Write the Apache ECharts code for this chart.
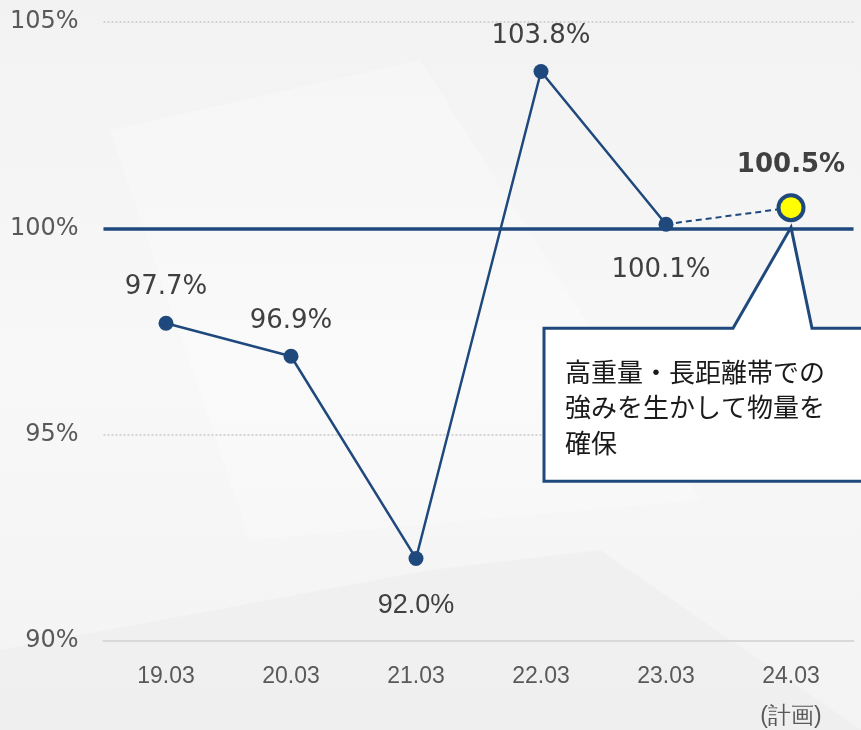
<!DOCTYPE html>
<html>
<head>
<meta charset="utf-8">
<script src="https://cdn.jsdelivr.net/npm/echarts@6/dist/echarts.min.js"></script>
<style>
  html, body { margin: 0; padding: 0; background: #f5f5f5; }
  #chart { width: 861px; height: 730px; }
</style>
</head>
<body>
<div id="chart"></div>
<script>
// Fiscal years on the x axis (the last one is the plan)
const categories = ['19.03', '20.03', '21.03', '22.03', '23.03', '24.03\n(計画)'];
// Actual results, percent
const actualValues = [97.7, 96.9, 92.0, 103.8, 100.1, '-'];
// Plan segment: last actual point joined to the plan value
const planValues = ['-', '-', '-', '-', 100.1, 100.5];
// Reference level
const baseline = 100;
const yTicks = { min: 90, max: 105, interval: 5 };
const calloutText = '高重量・長距離帯での\n強みを生かして物量を\n確保';

const NAVY = '#1f497d';
const LABEL = '#404040';
const AXIS_TEXT = '#595959';

const chart = echarts.init(document.getElementById('chart'), null, { renderer: 'canvas' });

// per-point label placement
const labelPos = ['top', 'top', 'bottom', 'top', 'bottom'];

const actualData = actualValues.map((v, i) => {
  if (v === '-') return v;
  const item = {
    value: v,
    label: {
      show: true,
      position: labelPos[i],
      distance: labelPos[i] === 'top' ? 15 : 26,
      formatter: p => p.value.toFixed(1) + '%'
    }
  };
  if (i === 2) {
    item.label.fontFamily = '"Liberation Sans Narrow", "Liberation Sans", sans-serif';
    item.label.fontSize = 27;
  }
  if (i === 4) item.label.offset = [-5, 0];
  return item;
});

const planData = planValues.map((v, i) => {
  if (v === '-') return v;
  if (i === planValues.length - 1) {
    return {
      value: v,
      symbol: 'circle',
      symbolSize: 25,
      itemStyle: { color: '#ffff00', borderColor: NAVY, borderWidth: 4 },
      label: {
        show: true,
        position: 'top',
        distance: 15,
        fontWeight: 'bold',
        formatter: p => p.value.toFixed(1) + '%'
      }
    };
  }
  return { value: v, symbol: 'none' };
});

chart.setOption({
  backgroundColor: {
    type: 'linear', x: 0, y: 0, x2: 0, y2: 1,
    colorStops: [
      { offset: 0, color: '#f2f2f2' },
      { offset: 0.5, color: '#f8f8f8' },
      { offset: 1, color: '#f3f3f3' }
    ]
  },
  animation: false,
  grid: { left: 103.5, right: 7.5, top: 22, bottom: 89, containLabel: false, outerBoundsMode: 'none' },
  xAxis: {
    type: 'category',
    data: categories,
    boundaryGap: true,
    axisLine: { show: true, lineStyle: { color: '#d9d9d9', width: 2 } },
    axisTick: { show: false },
    axisLabel: {
      color: AXIS_TEXT,
      fontFamily: '"Liberation Sans Narrow", "Liberation Sans", sans-serif',
      fontSize: 23,
      lineHeight: 40,
      margin: 16,
      verticalAlign: 'top',
      interval: 0
    }
  },
  yAxis: {
    type: 'value',
    min: yTicks.min,
    max: yTicks.max,
    interval: yTicks.interval,
    axisLine: { show: false },
    axisTick: { show: false },
    axisLabel: {
      color: AXIS_TEXT,
      fontFamily: '"DejaVu Sans", sans-serif',
      fontSize: 24,
      margin: 25,
      formatter: '{value}%'
    },
    splitLine: {
      show: true,
      lineStyle: { color: '#c9c9c9', type: [2, 2], width: 1.5 }
    }
  },
  series: [
    {
      name: '実績',
      type: 'line',
      data: actualData,
      symbol: 'circle',
      symbolSize: 15,
      lineStyle: { color: NAVY, width: 2.5 },
      itemStyle: { color: NAVY },
      label: { color: LABEL, fontFamily: '"DejaVu Sans", sans-serif', fontSize: 26 },
      z: 3,
      markLine: {
        silent: true,
        symbol: 'none',
        label: { show: false },
        lineStyle: { color: NAVY, width: 3.5, type: 'solid' },
        data: [{ yAxis: baseline }],
        z: 1
      }
    },
    {
      name: '計画',
      type: 'line',
      data: planData,
      lineStyle: { color: NAVY, width: 2, type: [6, 4] },
      itemStyle: { color: NAVY },
      label: { color: LABEL, fontFamily: '"DejaVu Sans", sans-serif', fontSize: 26 },
      z: 4
    }
  ]
});

// Callout anchored to the plan point on the 100% line
function drawCallout() {
  const tip = chart.convertToPixel({ gridIndex: 0 }, [categories.length - 1, baseline]);
  const tx = tip[0], ty = tip[1] - 1;
  const top = ty + 101, bottom = ty + 254;
  const left = tx - 247, right = 900;
  const baseL = tx - 58, baseR = tx + 21;
  chart.setOption({
    graphic: [
      // faint background facets
      { type: 'polygon', silent: true, z: -10,
        shape: { points: [[0, 650], [430, 570], [600, 550], [861, 730], [0, 730]] },
        style: { fill: 'rgba(228,228,228,0.25)' } },
      { type: 'polygon', silent: true, z: -10,
        shape: { points: [[110, 130], [420, 60], [700, 500], [250, 540]] },
        style: { fill: 'rgba(255,255,255,0.25)' } },
      {
        type: 'polygon',
        z: 10,
        shape: {
          points: [[left, top], [baseL, top], [tx, ty], [baseR, top], [right, top],
                   [right, bottom], [left, bottom]]
        },
        style: { fill: '#ffffff', stroke: NAVY, lineWidth: 3, lineJoin: 'miter' }
      },
      {
        type: 'text',
        z: 11,
        x: left + 21,
        y: top + 26,
        style: {
          text: calloutText,
          fill: '#1a1a1a',
          font: '26px "Noto Sans CJK JP", sans-serif',
          lineHeight: 35.5
        }
      }
    ]
  });
}
drawCallout();
</script>
</body>
</html>
